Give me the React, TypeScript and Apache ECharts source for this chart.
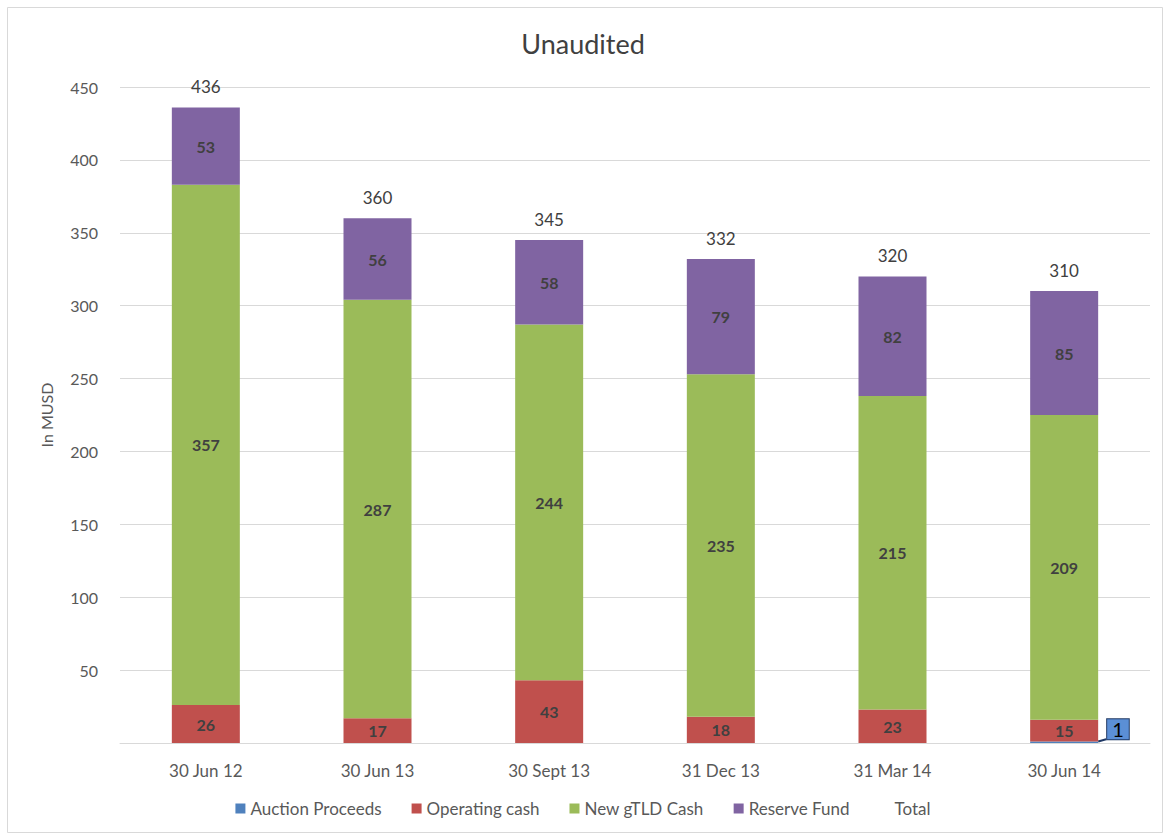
import React, { useEffect, useRef } from "react";
import * as echarts from "echarts";

const categories = ["30 Jun 12", "30 Jun 13", "30 Sept 13", "31 Dec 13", "31 Mar 14", "30 Jun 14"];
const auctionProceeds = [0, 0, 0, 0, 0, 1];
const operatingCash = [26, 17, 43, 18, 23, 15];
const newGtldCash = [357, 287, 244, 235, 215, 209];
const reserveFund = [53, 56, 58, 79, 82, 85];
const totals = [436, 360, 345, 332, 320, 310];

const FONT = "Lato, 'Noto Sans', sans-serif";

export default function App() {
  const ref = useRef<HTMLDivElement>(null);
  useEffect(() => {
    if (!ref.current) return;
    const chart = echarts.init(ref.current, null, { renderer: "svg" });
    const inLabel = {
      show: true,
      position: "inside",
      color: "#404040",
      fontWeight: "bold",
      fontSize: 16,
      fontFamily: FONT,
    };
    chart.setOption({
      animation: false,
      textStyle: { fontFamily: FONT },
      graphic: [
        {
          type: "rect",
          shape: { x: 7.5, y: 7.5, width: 1155, height: 825 },
          style: { fill: "none", stroke: "#d9d9d9", lineWidth: 1 },
          silent: true,
        },
      ],
      title: {
        text: "Unaudited",
        left: "center",
        top: 25,
        textStyle: { fontFamily: FONT, fontSize: 27, fontWeight: "normal", color: "#404040" },
      },
      legend: {
        bottom: 14,
        left: "center",
        itemWidth: 10,
        itemHeight: 10,
        itemGap: 30,
        icon: "rect",
        textStyle: { fontFamily: FONT, fontSize: 17, color: "#595959" },
        data: [
          "Auction Proceeds",
          "Operating cash",
          "New gTLD Cash",
          "Reserve Fund",
          { name: "Total", icon: "none" },
        ],
      },
      grid: { left: 120, right: 16, top: 87, bottom: 93, containLabel: false },
      xAxis: {
        type: "category",
        data: categories,
        axisLine: { lineStyle: { color: "#d9d9d9" } },
        axisTick: { show: false },
        axisLabel: { color: "#595959", fontSize: 17, fontFamily: FONT, margin: 19 },
      },
      yAxis: {
        type: "value",
        min: 0,
        max: 450,
        interval: 50,
        name: "In MUSD",
        nameLocation: "middle",
        nameGap: 66,
        nameTextStyle: { color: "#595959", fontSize: 16, fontFamily: FONT },
        axisLine: { show: false },
        axisTick: { show: false },
        splitLine: { lineStyle: { color: "#d9d9d9" } },
        axisLabel: {
          color: "#595959",
          fontSize: 16,
          fontFamily: FONT,
          margin: 22,
          formatter: (v: number) => (v === 0 ? "" : String(v)),
        },
      },
      series: [
        {
          name: "Auction Proceeds",
          type: "bar",
          stack: "s",
          barWidth: 68,
          itemStyle: { color: "#4F81BD" },
          data: auctionProceeds.map((v, i) =>
            i === auctionProceeds.length - 1
              ? {
                  value: v,
                  label: {
                    show: true,
                    position: "right",
                    distance: 12,
                    offset: [-3, -13],
                    color: "#000",
                    fontSize: 20,
                    fontFamily: FONT,
                    backgroundColor: "#5B8FD6",
                    borderColor: "#1f3864",
                    borderWidth: 1,
                    padding: [0, 5, 0, 5],
                  },
                }
              : { value: v, label: { show: false } }
          ),
          labelLine: { show: true, lineStyle: { color: "#1f3864", width: 2 } },
        },
        {
          name: "Operating cash",
          type: "bar",
          stack: "s",
          barWidth: 68,
          itemStyle: { color: "#C0504D" },
          label: inLabel,
          data: operatingCash,
        },
        {
          name: "New gTLD Cash",
          type: "bar",
          stack: "s",
          barWidth: 68,
          itemStyle: { color: "#9BBB59" },
          label: inLabel,
          data: newGtldCash,
        },
        {
          name: "Reserve Fund",
          type: "bar",
          stack: "s",
          barWidth: 68,
          itemStyle: { color: "#8064A2" },
          label: inLabel,
          data: reserveFund,
        },
        {
          name: "Total",
          type: "line",
          data: totals,
          symbol: "circle",
          symbolSize: 1,
          showSymbol: true,
          lineStyle: { opacity: 0 },
          itemStyle: { color: "rgba(0,0,0,0)" },
          label: {
            show: true,
            position: "top",
            distance: 12,
            color: "#404040",
            fontSize: 17,
            fontFamily: FONT,
          },
        },
      ],
    });
    return () => chart.dispose();
  }, []);
  return (
    <div
      ref={ref}
      style={{ position: "absolute", left: 0, top: 0, width: 1166, height: 836, background: "#fff" }}
    />
  );
}
